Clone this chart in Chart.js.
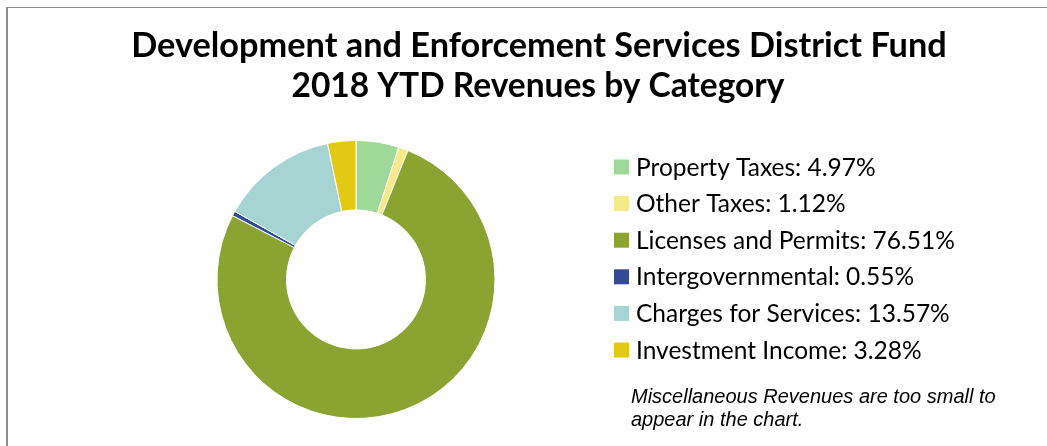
<!DOCTYPE html>
<html><head><meta charset="utf-8">
<script src="https://cdn.jsdelivr.net/npm/chart.js@4/dist/chart.umd.min.js"></script>
<style>
html,body{margin:0;padding:0;background:#fff;}
#wrap{position:relative;width:1047px;height:446px;overflow:hidden;}
#frame{position:absolute;left:6px;top:7px;width:1100px;height:500px;border-left:2px solid #8c8c8c;border-top:1px solid #8c8c8c;box-sizing:border-box;}
canvas{position:absolute;left:0;top:0;}
</style></head>
<body><div id="wrap"><div id="frame"></div><canvas id="c" width="1047" height="446"></canvas></div>
<script>
const titleLines = ["Development and Enforcement Services District Fund", "2018 YTD Revenues by Category"];
const categories = ["Property Taxes", "Other Taxes", "Licenses and Permits", "Intergovernmental", "Charges for Services", "Investment Income"];
const percents = [4.97, 1.12, 76.51, 0.55, 13.57, 3.28];
const colors = ["#9fd99a", "#f5e98a", "#8aa331", "#334a94", "#a6d4d2", "#e2c914"];
const noteLines = ["Miscellaneous Revenues are too small to", "appear in the chart."];

const overlay = {
  id: 'overlay',
  afterDraw(chart) {
    const ctx = chart.ctx;
    ctx.save();
    ctx.fillStyle = '#000';
    ctx.textAlign = 'center';
    ctx.textBaseline = 'alphabetic';
    ctx.font = 'bold 34.3px Lato';
    ctx.fillText(titleLines[0], 539, 57);
    ctx.font = 'bold 33.5px Lato';
    ctx.fillText(titleLines[1], 538, 97);
    const labels = chart.data.labels;
    const ds = chart.data.datasets[0];
    ctx.textAlign = 'left';
    ctx.font = '24.5px Lato';
    for (let i = 0; i < labels.length; i++) {
      const y = 167 + i * 36.6;
      ctx.fillStyle = ds.backgroundColor[i];
      ctx.fillRect(614, y - 7.5, 15, 15);
      ctx.fillStyle = '#000';
      ctx.fillText(labels[i] + ': ' + ds.data[i].toFixed(2) + '%', 636, y + 8.5);
    }
    ctx.font = 'italic 20px "Liberation Sans"';
    ctx.fillText(noteLines[0], 631, 403);
    ctx.fillText(noteLines[1], 631, 426);
    ctx.restore();
  }
};

new Chart(document.getElementById('c'), {
  type: 'doughnut',
  data: { labels: categories, datasets: [{ data: percents, backgroundColor: colors, borderColor: '#ffffff', borderWidth: 1 }] },
  options: {
    responsive: false, animation: false, cutout: '50%',
    layout: { padding: { left: 216, right: 551, top: 140, bottom: 27 } },
    plugins: { legend: { display: false }, title: { display: false }, tooltip: { enabled: false } }
  },
  plugins: [overlay]
});
</script></body></html>
